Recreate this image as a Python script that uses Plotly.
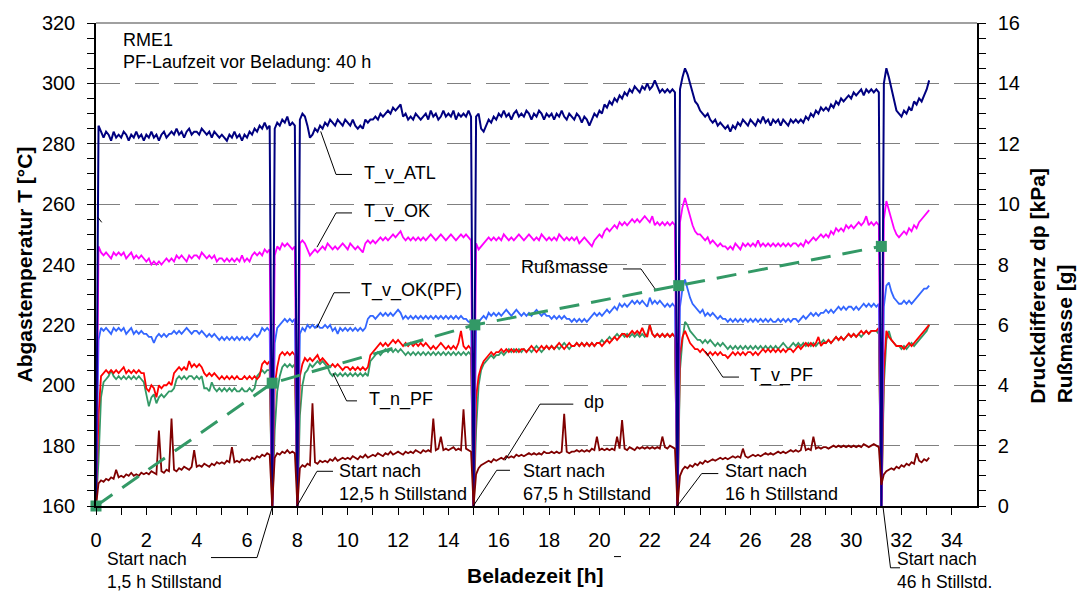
import plotly.graph_objects as go

# ---------------- data ----------------
# sampling grid: 0.0 ... 33.1 h in 0.1 h steps (332 samples)
N = 332
t = [round(i * 0.1, 1) for i in range(N)]

T_v_ATL = [
    160, 286, 284, 282, 284, 283, 281, 284, 282, 283,
    282, 284, 283, 281, 283, 282, 284, 282, 283, 281,
    283, 282, 284, 282, 283, 281, 283, 284, 282, 283,
    284, 283, 285, 283, 284, 282, 284, 285, 283, 284,
    284, 283, 285, 284, 283, 284, 282, 284, 283, 282,
    283, 282, 281, 283, 282, 284, 282, 283, 281, 283,
    282, 284, 283, 285, 284, 286, 285, 287, 285, 286,
    158, 285, 287, 286, 288, 287, 289, 286, 287, 286,
    158, 288, 290, 289, 286, 282, 283, 285, 284, 286,
    285, 287, 286, 288, 287, 286, 288, 287, 286, 288,
    287, 286, 288, 286, 285, 286, 285, 288, 287, 288,
    288, 289, 288, 290, 289, 290, 291, 290, 292, 291,
    292, 293, 289, 290, 288, 289, 288, 290, 289, 288,
    289, 290, 288, 291, 289, 290, 288, 289, 291, 289,
    290, 289, 291, 288, 290, 289, 290, 289, 291, 289,
    158, 289, 290, 285, 284, 286, 288, 287, 289, 288,
    290, 289, 291, 289, 290, 288, 290, 291, 289, 290,
    289, 291, 290, 288, 290, 289, 291, 290, 288, 290,
    289, 290, 288, 290, 289, 291, 289, 288, 290, 289,
    288, 290, 289, 287, 289, 288, 286, 288, 290, 289,
    291, 290, 293, 292, 294, 293, 295, 294, 296, 295,
    297, 296, 298, 297, 299, 298, 297, 299, 298, 300,
    298, 299, 301, 299, 297, 298, 297, 298, 297, 298,
    297, 158, 298, 302, 305, 303, 300, 297, 294, 293,
    291, 290, 289, 290, 288, 287, 288, 286, 287, 286,
    285, 286, 284, 286, 285, 287, 286, 288, 287, 286,
    288, 287, 286, 288, 287, 289, 287, 288, 286, 288,
    287, 288, 286, 288, 287, 286, 288, 287, 288, 287,
    288, 287, 289, 288, 290, 289, 291, 290, 292, 291,
    292, 291, 293, 292, 294, 293, 295, 294, 295, 296,
    295, 297, 296, 297, 298, 296, 298, 297, 298, 297,
    298, 297, 158, 300, 305, 302, 298, 294, 291, 290,
    289, 291, 290, 292, 291, 294, 293, 295, 294, 296,
    298, 301,
]

T_v_OK = [
    160, 246, 244, 243, 244, 243, 242, 244, 243, 244,
    243, 244, 242, 243, 244, 242, 243, 242, 243, 242,
    241, 242, 240, 241, 240, 241, 240, 241, 242, 241,
    242, 241, 243, 242, 243, 242, 241, 243, 242, 243,
    243, 242, 244, 243, 242, 243, 242, 243, 241, 242,
    242, 241, 242, 241, 242, 241, 242, 241, 243, 241,
    242, 241, 243, 244, 243, 244, 243, 245, 244, 245,
    158, 243, 246, 245, 247, 246, 247, 246, 245, 246,
    158, 247, 248, 247, 245, 243, 244, 245, 244, 245,
    246, 245, 247, 246, 245, 246, 245, 246, 247, 246,
    245, 247, 246, 245, 246, 245, 244, 247, 248, 247,
    248, 247, 248, 249, 248, 249, 248, 249, 250, 249,
    250, 251, 249, 248, 249, 248, 249, 248, 249, 248,
    249, 248, 249, 250, 249, 248, 249, 250, 249, 248,
    249, 250, 249, 248, 249, 250, 249, 250, 249, 248,
    158, 247, 245, 246, 247, 248, 249, 248, 249, 248,
    249, 248, 250, 249, 248, 249, 248, 249, 250, 249,
    248, 249, 250, 249, 248, 249, 248, 250, 249, 248,
    249, 248, 249, 248, 250, 249, 248, 249, 248, 249,
    248, 249, 247, 248, 249, 248, 247, 246, 248, 249,
    250, 249, 251, 252, 251, 252, 253, 252, 254, 253,
    254, 253, 254, 255, 254, 255, 254, 255, 256, 255,
    254, 256, 253, 254, 253, 254, 253, 254, 253, 254,
    253, 158, 254, 259, 262, 259, 256, 253, 251, 250,
    250, 249, 248, 249, 247, 248, 247, 246, 247, 246,
    246, 245, 246, 245, 247, 246, 245, 247, 246, 247,
    246, 247, 246, 248, 246, 247, 246, 247, 246, 247,
    246, 247, 246, 247, 246, 247, 246, 247, 247, 246,
    247, 246, 248, 247, 248, 249, 248, 249, 250, 249,
    250, 249, 251, 250, 252, 251, 252, 251, 253, 252,
    253, 252, 253, 254, 253, 254, 256, 253, 254, 253,
    254, 253, 158, 255, 261, 258, 255, 252, 250, 249,
    250, 251, 250, 252, 251, 253, 252, 254, 255, 256,
    257, 258,
]

T_v_OK_PF = [
    160, 215, 219, 218, 219, 218, 217, 219, 218, 219,
    218, 219, 217, 218, 219, 217, 218, 217, 218, 217,
    217, 216, 216, 214, 216, 217, 216, 217, 216, 217,
    217, 218, 217, 218, 217, 218, 219, 218, 217, 218,
    218, 217, 218, 217, 216, 217, 216, 217, 216, 215,
    216, 215, 216, 215, 216, 215, 216, 215, 216, 215,
    216, 215, 216, 217, 216, 217, 219, 218, 219, 218,
    158, 214, 219, 220, 221, 222, 221, 222, 221, 222,
    158, 217, 219, 218, 220, 219, 220, 219, 220, 219,
    219, 220, 219, 220, 218, 219, 217, 219, 218, 219,
    218, 219, 218, 219, 218, 219, 218, 219, 222, 223,
    223, 222, 223, 224, 223, 224, 223, 224, 223, 224,
    225, 224, 222, 223, 222, 223, 222, 223, 222, 223,
    222, 223, 222, 223, 222, 223, 222, 223, 222, 223,
    222, 223, 222, 223, 222, 223, 222, 222, 221, 221,
    158, 219, 221, 222, 223, 222, 224, 223, 224, 223,
    224, 223, 224, 225, 224, 223, 224, 225, 224, 223,
    224, 223, 224, 223, 224, 225, 224, 223, 224, 223,
    223, 222, 223, 222, 223, 222, 223, 222, 222, 221,
    222, 221, 222, 221, 222, 221, 222, 223, 224, 223,
    224, 223, 224, 225, 224, 225, 226, 225, 227, 226,
    227, 226, 227, 228, 227, 228, 227, 228, 227, 226,
    229, 227, 228, 227, 228, 227, 226, 227, 226, 227,
    226, 158, 226, 232, 235, 232, 229, 227, 226, 225,
    224, 225, 223, 224, 223, 224, 223, 222, 223, 222,
    222, 221, 222, 221, 222, 221, 222, 221, 222, 221,
    222, 221, 222, 221, 222, 221, 222, 221, 222, 221,
    221, 222, 221, 222, 221, 222, 221, 222, 222, 221,
    222, 223, 222, 223, 224, 223, 224, 223, 224, 224,
    225, 224, 225, 224, 225, 226, 225, 226, 225, 226,
    226, 225, 226, 225, 226, 227, 226, 227, 226, 227,
    226, 227, 158, 226, 233, 234, 231, 229, 228, 227,
    227, 228, 227, 228, 227, 228, 229, 230, 231, 232,
    232, 233,
]

T_v_PF = [
    160, 190, 203, 204, 205, 204, 205, 204, 205, 204,
    205, 206, 204, 205, 204, 205, 204, 205, 204, 204,
    199, 198, 200, 199, 196, 200, 199, 200, 200, 201,
    200, 204, 205, 206, 205, 206, 205, 208, 206, 207,
    206, 207, 206, 204, 203, 204, 203, 204, 203, 202,
    203, 202, 203, 202, 203, 202, 203, 202, 202, 203,
    202, 203, 202, 203, 202, 203, 207, 208, 207, 208,
    158, 200, 206, 210, 211, 210, 211, 210, 211, 210,
    158, 203, 207, 209, 208, 209, 208, 209, 210, 208,
    209, 208, 207, 206, 207, 206, 207, 206, 205, 206,
    206, 205, 206, 205, 206, 205, 206, 205, 206, 210,
    211, 212, 213, 214, 213, 214, 213, 214, 215, 214,
    215, 214, 213, 214, 213, 214, 213, 214, 213, 214,
    213, 214, 213, 212, 213, 212, 213, 214, 213, 212,
    213, 212, 213, 212, 214, 218, 213, 212, 213, 212,
    158, 196, 203, 206, 208, 209, 210, 211, 210, 211,
    211, 212, 211, 212, 211, 212, 211, 212, 211, 212,
    212, 211, 212, 213, 212, 211, 212, 213, 212, 213,
    212, 213, 212, 213, 214, 213, 212, 213, 214, 213,
    213, 214, 213, 214, 213, 214, 213, 214, 213, 214,
    214, 213, 214, 215, 214, 215, 216, 215, 216, 217,
    217, 216, 217, 218, 217, 218, 217, 219, 217, 216,
    220, 217, 216, 217, 216, 217, 216, 217, 216, 217,
    216, 158, 210, 216, 218, 216, 214, 213, 212, 212,
    211, 212, 211, 210, 211, 210, 211, 210, 211, 210,
    210, 209, 210, 211, 210, 211, 210, 211, 210, 211,
    211, 210, 211, 210, 211, 212, 211, 212, 211, 212,
    211, 212, 211, 212, 211, 212, 212, 211, 212, 213,
    212, 213, 214, 213, 214, 213, 214, 216, 213, 214,
    214, 215, 214, 215, 216, 215, 216, 215, 216, 217,
    216, 217, 216, 217, 218, 217, 218, 217, 218, 218,
    218, 219, 158, 205, 218, 216, 215, 214, 213, 213,
    213, 212, 213, 214, 213, 214, 215, 216, 217, 218,
    219, 220,
]

T_n_PF = [
    160, 175, 196, 201, 202, 203, 205, 203, 202, 203,
    202, 203, 202, 203, 202, 203, 202, 203, 202, 201,
    197, 193, 196, 197, 194, 196, 197, 196, 197, 198,
    198, 199, 202, 203, 202, 203, 202, 203, 203, 202,
    203, 202, 203, 199, 199, 198, 201, 199, 198, 199,
    198, 199, 198, 199, 198, 199, 198, 198, 199, 198,
    198, 199, 198, 199, 203, 204, 205, 204, 205, 205,
    158, 185, 198, 203, 206, 207, 206, 207, 206, 207,
    158, 190, 200, 204, 205, 207, 206, 207, 208, 207,
    208, 207, 206, 204, 203, 204, 203, 204, 203, 204,
    203, 204, 203, 204, 203, 204, 203, 204, 203, 208,
    209, 210, 211, 210, 211, 212, 211, 212, 211, 212,
    211, 212, 211, 210, 211, 210, 211, 210, 211, 210,
    211, 210, 211, 210, 211, 210, 211, 210, 211, 210,
    211, 210, 211, 210, 211, 210, 211, 210, 211, 210,
    158, 185, 200, 205, 207, 208, 209, 210, 209, 210,
    210, 211, 210, 211, 212, 211, 212, 211, 212, 211,
    212, 211, 212, 211, 212, 213, 212, 211, 212, 213,
    212, 213, 212, 213, 212, 213, 214, 213, 212, 213,
    213, 214, 213, 214, 213, 214, 213, 214, 213, 214,
    214, 215, 214, 215, 216, 215, 216, 217, 216, 217,
    216, 217, 216, 217, 216, 217, 216, 217, 216, 217,
    220, 217, 216, 217, 216, 217, 216, 217, 216, 217,
    216, 158, 205, 215, 221, 220, 218, 217, 216, 215,
    215, 214, 215, 214, 215, 214, 213, 214, 213, 214,
    213, 212, 213, 212, 213, 212, 213, 212, 213, 212,
    213, 212, 213, 212, 213, 212, 213, 212, 213, 212,
    213, 212, 213, 214, 213, 212, 213, 214, 213, 214,
    213, 214, 213, 214, 213, 214, 213, 214, 214, 215,
    214, 215, 214, 215, 216, 215, 216, 215, 216, 217,
    216, 217, 216, 217, 216, 217, 218, 217, 218, 218,
    218, 217, 158, 200, 215, 218, 215, 214, 213, 213,
    212, 213, 212, 213, 214, 213, 214, 215, 216, 217,
    218, 220,
]

dp_kPa = [
    0.0, 0.75, 0.85, 0.8, 0.9, 0.85, 0.95, 0.9, 1.2, 0.95,
    1.0, 0.95, 1.05, 1.0, 1.1, 1.0, 1.05, 1.0, 1.1, 1.05,
    1.1, 1.05, 1.15, 1.1, 1.05, 2.5, 1.15, 1.1, 1.2, 1.15,
    2.9, 1.2, 1.15, 1.25, 1.2, 1.3, 1.25, 1.2, 1.3, 1.85,
    1.3, 1.35, 1.3, 1.4, 1.35, 1.3, 1.4, 1.35, 1.45, 1.4,
    1.45, 1.4, 1.5, 1.45, 1.95, 1.45, 1.5, 1.45, 1.55, 1.5,
    1.55, 1.5, 1.6, 1.55, 1.65, 1.6, 1.7, 1.65, 1.75, 1.7,
    0.0, 1.6, 1.75, 1.7, 1.8, 1.75, 1.85, 1.75, 1.8, 1.75,
    0.0, 1.25, 1.35, 1.3, 1.4, 1.35, 3.4, 1.45, 1.4, 1.5,
    1.45, 1.5, 1.45, 1.55, 1.5, 1.6, 1.5, 1.55, 1.6, 1.55,
    1.6, 1.55, 1.65, 1.6, 1.55, 1.65, 1.6, 1.7, 1.6, 1.65,
    1.7, 1.65, 1.75, 1.7, 1.65, 1.75, 1.7, 1.8, 1.7, 1.75,
    1.8, 1.75, 1.7, 1.8, 1.75, 1.8, 1.75, 1.85, 1.8, 1.75,
    1.85, 1.8, 1.85, 1.8, 2.9, 1.85, 1.9, 2.3, 1.85, 1.9,
    1.85, 1.9, 1.95, 1.85, 1.9, 1.85, 3.2, 1.9, 1.85, 1.8,
    0.0, 1.05, 1.25, 1.35, 1.4, 1.45, 1.5, 1.45, 1.55, 1.5,
    1.55, 1.6, 1.55, 1.65, 1.6, 1.65, 1.6, 1.7, 1.65, 1.7,
    1.65, 1.7, 1.75, 1.7, 1.75, 1.7, 1.75, 1.7, 1.8, 1.75,
    1.75, 1.8, 1.75, 1.8, 1.75, 1.8, 3.05, 1.8, 1.75, 1.8,
    1.8, 1.85, 1.8, 1.85, 1.8, 1.85, 1.8, 1.9, 1.85, 2.3,
    1.85, 1.9, 1.85, 1.9, 1.85, 1.9, 1.85, 2.3, 1.9, 2.85,
    1.9, 1.85, 1.95, 1.9, 1.85, 1.95, 1.9, 1.95, 1.9, 1.95,
    1.9, 1.95, 1.9, 1.95, 1.9, 2.3, 1.95, 1.9, 2.0, 1.95,
    1.9, 0.0, 1.0, 1.2, 1.3, 1.25, 1.35, 1.3, 1.4, 1.35,
    1.45, 1.4, 1.5, 1.45, 1.5, 1.55, 1.5, 1.55, 1.6, 1.55,
    1.6, 1.55, 1.6, 1.65, 1.6, 1.65, 1.6, 1.9, 1.65, 1.6,
    1.65, 1.7, 1.65, 1.7, 1.65, 1.7, 1.75, 1.7, 1.75, 1.7,
    1.75, 1.8, 1.75, 1.8, 1.75, 1.8, 1.85, 1.8, 1.85, 1.8,
    1.85, 2.2, 1.85, 1.9, 1.85, 2.3, 1.9, 1.95, 1.9, 1.95,
    1.95, 1.9, 1.95, 2.0, 1.95, 2.0, 1.95, 2.0, 1.95, 2.0,
    1.95, 2.0, 1.95, 2.0, 1.95, 2.05, 2.0, 1.95, 2.0, 2.05,
    2.0, 1.95, 0.7, 1.05, 1.15, 1.2, 1.25, 1.2, 1.3, 1.25,
    1.35, 1.3, 1.4, 1.35, 1.45, 1.4, 1.75, 1.5, 1.45, 1.55,
    1.5, 1.6,
]

russ_t = [0.0, 7.0, 15.05, 23.15, 31.2]
russ_g = [0.0, 4.07, 6.0, 7.3, 8.6]

x_tickvals = list(range(0, 35))
x_ticktext = [str(v) if v % 2 == 0 else "" for v in x_tickvals]

# ---------------- figure ----------------
FONT = "Liberation Sans, Arial, sans-serif"
Wfig, Hfig = 1077, 591
L, R, T, B = 96, 100, 19, 85
PW, PH = Wfig - L - R, Hfig - T - B


def px(x):
    return (x - L) / PW


def py(y):
    return (Hfig - B - y) / PH


fig = go.Figure()


def tline(y, color, width=1.6, yaxis="y"):
    fig.add_trace(go.Scatter(x=t[:len(y)], y=y, mode="lines", yaxis=yaxis,
                             line=dict(color=color, width=width),
                             hoverinfo="skip", showlegend=False))


tline(dp_kPa, "#800000", 1.8, "y2")
tline(T_n_PF, "#339966", 1.8)
tline(T_v_PF, "#FF0000", 1.8)
tline(T_v_OK_PF, "#3366FF", 1.8)
tline(T_v_OK, "#FF00FF", 1.8)
tline(T_v_ATL, "#000080", 2.0)

fig.add_trace(go.Scatter(x=russ_t, y=russ_g, mode="lines+markers", yaxis="y2",
                         line=dict(color="#339966", width=3, dash="20px,12px"),
                         marker=dict(symbol="square", size=11, color="#339966"),
                         cliponaxis=False, showlegend=False, hoverinfo="skip"))

ann = []


def text(x, y, s, size=18, anchor="left", angle=0, yanchor="middle"):
    ann.append(dict(x=px(x), y=py(y), xref="paper", yref="paper", text=s,
                    showarrow=False, xanchor=anchor, yanchor=yanchor, align="left",
                    textangle=angle,
                    font=dict(family=FONT, size=size, color="black")))


text(121, 36, "RME1")
text(121, 58.5, "PF-Laufzeit vor Beladung: 40 h")
text(362, 171, "T_v_ATL")
text(362, 209, "T_v_OK")
text(359, 289, "T_v_OK(PF)")
text(367, 399, "T_n_PF")
text(519, 265, "Rußmasse")
text(748, 374, "T_v_PF")
text(582, 401, "dp")
text(337, 482.5, "Start nach<br>12,5 h Stillstand")
text(521, 482, "Start nach<br>67,5 h Stillstand")
text(723, 482, "Start nach<br>16 h Stillstand")
text(105, 571.5, "Start nach<br>1,5 h Stillstand", size=17.5)
text(895, 571.5, "Start nach<br>46 h Stillstd.", size=17.5)

# axis titles
text(535.5, 576, "<b>Beladezeit [h]</b>", size=21, anchor="center")
text(24, 262.5, "<b>Abgastemperatur T [°C]</b>", size=21, anchor="center", angle=-90)
text(1038, 405, "<b>Druckdifferenz dp [kPa]</b>", size=21, anchor="center", angle=-90,
     yanchor="bottom")
text(1064, 405, "<b>Rußmasse [g]</b>", size=21, anchor="center", angle=-90,
     yanchor="bottom")

shapes = []


def leader(pts):
    path = "M " + " L ".join(f"{px(a):.5f},{py(b):.5f}" for a, b in pts)
    shapes.append(dict(type="path", path=path, xref="paper", yref="paper",
                       line=dict(color="black", width=1)))


leader([(320.7, 128.3), (336, 171.7), (352, 171.7)])
leader([(317, 245), (336, 210.5), (352, 210.5)])
leader([(316.7, 326.7), (334, 291), (350, 291)])
leader([(333, 372), (346.6, 400), (357, 400)])
leader([(623, 267), (641, 267), (655, 287)])
leader([(705.5, 350), (722.8, 376), (739, 376)])
leader([(505, 460), (540, 403.3), (573.3, 403.3)])
leader([(297, 506), (317, 471), (333, 471)])
leader([(473.3, 506), (496.7, 470), (510, 470)])
leader([(676.7, 506.7), (701.7, 473.3), (718.3, 473.3)])
leader([(272.4, 506.7), (257, 558), (211, 558)])
leader([(883, 506.7), (890.5, 568.3), (900, 568.3)])
leader([(98, 215), (101.7, 220)])
leader([(614, 557), (621, 557)])

# top border (gray)
shapes.append(dict(type="line", xref="paper", yref="paper", x0=0, x1=1, y0=1, y1=1,
                   line=dict(color="#808080", width=1.5)))

fig.update_layout(
    width=Wfig, height=Hfig,
    margin=dict(l=L, r=R, t=T, b=B),
    paper_bgcolor="white", plot_bgcolor="white",
    font=dict(family=FONT, size=20, color="black"),
    showlegend=False,
    annotations=ann, shapes=shapes,
    xaxis=dict(range=[0, 35], tickvals=x_tickvals, ticktext=x_ticktext,
               ticks="outside", ticklen=7, tickwidth=1.2, tickcolor="black",
               showline=True, linecolor="black", linewidth=1.5,
               showgrid=False, zeroline=False, ticklabelstandoff=8,
               tickfont=dict(size=20)),
    yaxis=dict(range=[160, 320], tick0=160, dtick=20,
               ticks="outside", ticklen=7, tickwidth=1.2, tickcolor="black",
               showline=True, linecolor="black", linewidth=1.5,
               showgrid=True, gridcolor="#808080", gridwidth=1,
               griddash="24px,15px", zeroline=False, ticklabelstandoff=8,
               minor=dict(dtick=5, ticks="outside", ticklen=7, tickcolor="black",
                          tickwidth=1, showgrid=False),
               tickfont=dict(size=20)),
    yaxis2=dict(range=[0, 16], tick0=0, dtick=2, overlaying="y", side="right",
                ticks="outside", ticklen=7, tickwidth=1.2, tickcolor="black",
                showline=True, linecolor="black", linewidth=1.5,
                showgrid=False, zeroline=False, ticklabelstandoff=8,
                minor=dict(dtick=0.5, ticks="outside", ticklen=7, tickcolor="black",
                           tickwidth=1, showgrid=False),
                tickfont=dict(size=20)),
)

fig.write_html("out.html",
               config={"displayModeBar": False},
               post_script="document.body.style.margin='0px';"
                           "document.body.style.overflow='hidden';")
